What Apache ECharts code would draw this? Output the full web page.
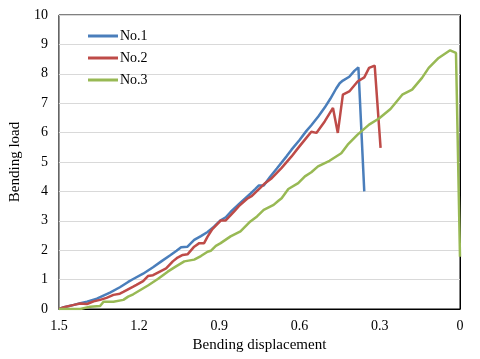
<!DOCTYPE html>
<html>
<head>
<meta charset="utf-8">
<script src="https://cdn.jsdelivr.net/npm/echarts@6/dist/echarts.min.js"></script>
<style>
  html, body { margin: 0; padding: 0; background: #fff; }
  #chart { width: 480px; height: 359px; }
</style>
</head>
<body>
<div id="chart"></div>
<script>
// 数据：弯曲位移 / 弯曲荷载
const no1X = [1.5, 1.481, 1.444, 1.42, 1.395, 1.358, 1.309, 1.272, 1.241, 1.222, 1.185, 1.148, 1.117, 1.085, 1.06, 1.043, 1.019, 0.994, 0.969, 0.944, 0.92, 0.895, 0.876, 0.858, 0.821, 0.784, 0.766, 0.753, 0.734, 0.71, 0.685, 0.648, 0.63, 0.6, 0.575, 0.556, 0.53, 0.506, 0.485, 0.463, 0.45, 0.438, 0.414, 0.395, 0.38, 0.373, 0.358];
const no1Y = [0, 0.06, 0.14, 0.2, 0.25, 0.35, 0.56, 0.74, 0.92, 1.02, 1.2, 1.42, 1.62, 1.82, 1.98, 2.1, 2.12, 2.35, 2.48, 2.62, 2.8, 3.02, 3.12, 3.3, 3.62, 3.92, 4.08, 4.2, 4.2, 4.5, 4.78, 5.2, 5.42, 5.75, 6.05, 6.25, 6.55, 6.85, 7.15, 7.5, 7.68, 7.77, 7.9, 8.1, 8.22, 8.16, 4.0];

const no2X = [1.5, 1.481, 1.444, 1.42, 1.395, 1.37, 1.346, 1.322, 1.296, 1.272, 1.259, 1.222, 1.21, 1.185, 1.167, 1.148, 1.117, 1.099, 1.074, 1.056, 1.037, 1.019, 0.994, 0.975, 0.957, 0.944, 0.926, 0.895, 0.877, 0.846, 0.827, 0.796, 0.778, 0.747, 0.729, 0.704, 0.667, 0.63, 0.605, 0.58, 0.556, 0.537, 0.506, 0.475, 0.457, 0.438, 0.414, 0.383, 0.358, 0.34, 0.319, 0.297];
const no2Y = [0, 0.06, 0.14, 0.19, 0.17, 0.26, 0.31, 0.38, 0.48, 0.52, 0.58, 0.76, 0.82, 0.95, 1.12, 1.15, 1.3, 1.38, 1.62, 1.75, 1.84, 1.86, 2.12, 2.24, 2.24, 2.46, 2.72, 3.01, 3.01, 3.3, 3.5, 3.75, 3.85, 4.12, 4.28, 4.45, 4.8, 5.19, 5.48, 5.76, 6.03, 5.99, 6.38, 6.84, 5.99, 7.29, 7.4, 7.74, 7.88, 8.2, 8.28, 5.48];

const no3X = [1.5, 1.444, 1.42, 1.383, 1.346, 1.333, 1.296, 1.259, 1.241, 1.222, 1.167, 1.13, 1.093, 1.062, 1.031, 0.994, 0.969, 0.944, 0.932, 0.913, 0.895, 0.858, 0.821, 0.784, 0.759, 0.734, 0.697, 0.679, 0.667, 0.642, 0.605, 0.58, 0.556, 0.531, 0.488, 0.444, 0.42, 0.383, 0.34, 0.303, 0.26, 0.216, 0.179, 0.142, 0.117, 0.08, 0.037, 0.015, 0];
const no3Y = [0, 0, 0, 0.08, 0.1, 0.25, 0.25, 0.31, 0.42, 0.5, 0.8, 1.02, 1.27, 1.45, 1.62, 1.68, 1.8, 1.95, 1.98, 2.15, 2.24, 2.47, 2.64, 2.98, 3.15, 3.37, 3.54, 3.68, 3.77, 4.08, 4.28, 4.51, 4.65, 4.85, 5.04, 5.3, 5.59, 5.93, 6.27, 6.48, 6.8, 7.29, 7.46, 7.86, 8.2, 8.54, 8.8, 8.71, 1.78];

const seriesNames = ['No.1', 'No.2', 'No.3'];
const seriesColors = ['#4A7EBB', '#BE4B48', '#98B954'];

const zip = (xs, ys) => xs.map((x, i) => [x, ys[i]]);

const chart = echarts.init(document.getElementById('chart'));
const font = '"Liberation Serif", "Times New Roman", serif';

const option = {
    animation: false,
    textStyle: { fontFamily: font },
    grid: {
        left: 55,
        right: 20,
        top: 15,
        bottom: 50,
        show: true,
        borderColor: '#000',
        borderWidth: 1
    },
    legend: {
        orient: 'vertical',
        left: 83,
        top: 24,
        icon: 'path://M0,0 L10,0 L10,1 L0,1 Z',
        itemWidth: 30,
        itemHeight: 3,
        itemGap: 8,
        data: seriesNames,
        textStyle: { fontFamily: font, fontSize: 14, color: '#000', padding: [0, 0, 0, -3] }
    },
    xAxis: {
        type: 'value',
        inverse: true,
        min: 0,
        max: 1.5,
        interval: 0.3,
        name: 'Bending displacement',
        nameLocation: 'middle',
        nameGap: 28,
        nameTextStyle: { fontFamily: font, fontSize: 15, color: '#000' },
        axisLine: { show: true, lineStyle: { color: '#000' } },
        axisTick: { show: false },
        splitLine: { show: false },
        axisLabel: {
            margin: 10,
            fontFamily: font,
            fontSize: 14,
            color: '#000',
            formatter: v => String(+v.toFixed(1))
        }
    },
    yAxis: {
        type: 'value',
        min: 0,
        max: 10,
        interval: 1,
        name: 'Bending load',
        nameLocation: 'middle',
        nameGap: 30,
        nameTextStyle: { fontFamily: font, fontSize: 15, color: '#000' },
        axisLine: { show: true, lineStyle: { color: '#000' } },
        axisTick: { show: false },
        splitLine: { lineStyle: { color: '#D9D9D9', width: 1 } },
        axisLabel: { margin: 11, fontFamily: font, fontSize: 14, color: '#000' }
    },
    series: [
        { name: seriesNames[0], type: 'line', data: zip(no1X, no1Y) },
        { name: seriesNames[1], type: 'line', data: zip(no2X, no2Y) },
        { name: seriesNames[2], type: 'line', data: zip(no3X, no3Y) }
    ].map((s, i) => Object.assign(s, {
        showSymbol: false,
        symbol: 'none',
        itemStyle: { color: seriesColors[i] },
        lineStyle: { color: seriesColors[i], width: 2.5 }
    }))
};

chart.setOption(option);
</script>
</body>
</html>
